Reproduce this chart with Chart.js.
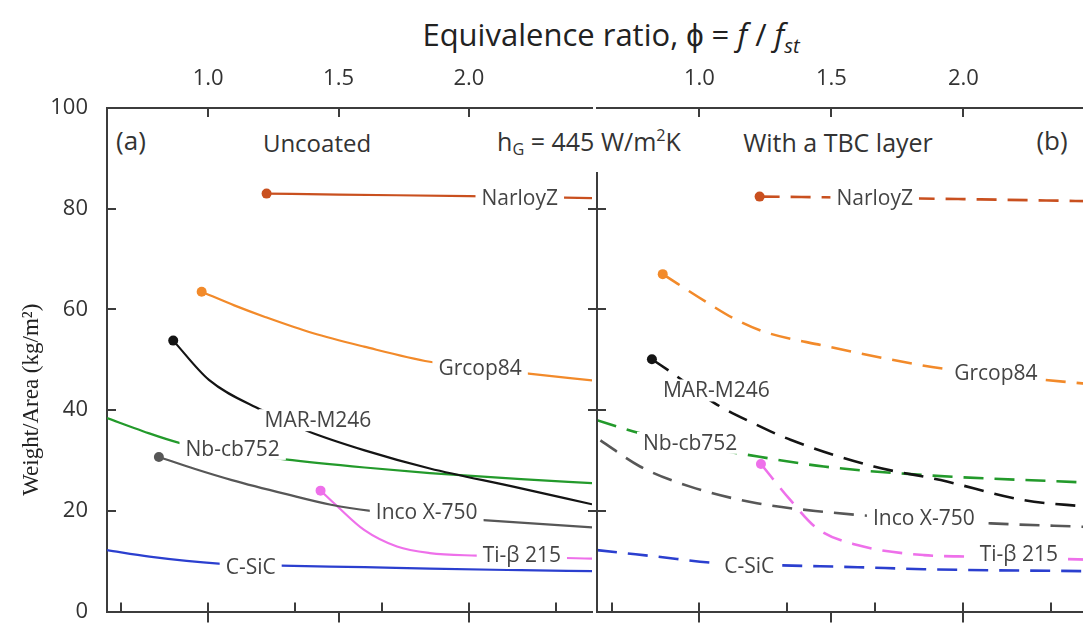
<!DOCTYPE html>
<html>
<head>
<meta charset="utf-8">
<title>Weight per area vs equivalence ratio</title>
<script src="https://cdn.jsdelivr.net/npm/chart.js@4.4.1/dist/chart.umd.min.js"></script>
<style>
  html, body { margin: 0; padding: 0; background: #fff; }
  body { width: 1083px; height: 623px; position: relative; overflow: hidden; font-family: 'Open Sans', sans-serif; color: #333; }
  canvas { position: absolute; top: 0; }
  #chartA { left: 0; }
  #chartB { left: 587px; }
  .note { position: absolute; transform: translate(-50%, -50%); white-space: nowrap; font-size: 24px; color: #333; }
  .note sub { font-size: 0.65em; vertical-align: -0.3em; }
  .note sup { font-size: 0.65em; vertical-align: 0.6em; }
  #title { font-size: 31px; color: #222; }
</style>
</head>
<body>
<div id="title" class="note" style="left:611px; top:36px">Equivalence ratio, ϕ = <i>f</i> / <i>f</i><sub><i>st</i></sub></div>
<div class="note" style="left:131px; top:140px; font-size:26px">(a)</div>
<div class="note" style="left:317px; top:142px">Uncoated</div>
<div class="note" style="left:589px; top:142px; font-size:25px">h<sub>G</sub> = 445 W/m<sup>2</sup>K</div>
<div class="note" style="left:838px; top:142px; font-size:25px">With a TBC layer</div>
<div class="note" style="left:1052px; top:140px; font-size:26px">(b)</div>
<canvas id="chartA" width="597" height="623"></canvas>
<canvas id="chartB" width="506" height="623"></canvas>
<script>
const PHI_MIN = 0.612, PHI_MAX = 2.472;
const phiTicks = [1.0, 1.5, 2.0];
const lowerTicks = [0.667, 1.0, 1.333, 1.667, 2.0, 2.333];
const weightTicks = [0, 20, 40, 60, 80, 100];

const materials = ['NarloyZ', 'Grcop84', 'MAR-M246', 'Nb-cb752', 'Inco X-750', 'Ti-β 215', 'C-SiC'];

// (a) uncoated, [phi, kg/m2]
const narloyA = [[1.224, 83.0], [1.5, 82.8], [2.0, 82.5], [2.472, 82.1]];
const grcopA = [[0.975, 63.5], [1.1, 60.8], [1.218, 58.5], [1.4, 55.3], [1.598, 52.6], [1.85, 49.6], [2.22, 47.3], [2.472, 45.9]];
const marA = [[0.866, 53.8], [1.003, 46.0], [1.205, 40.0], [1.383, 35.8], [1.6, 32.0], [1.85, 28.4], [2.17, 24.8], [2.472, 21.3]];
const nbA = [[0.612, 38.4], [0.75, 35.8], [0.889, 33.5], [1.1, 31.5], [1.294, 30.2], [1.6, 28.6], [1.85, 27.5], [2.2, 26.3], [2.472, 25.5]];
const incoA = [[0.811, 30.7], [0.95, 28.3], [1.091, 26.1], [1.3, 23.3], [1.471, 21.2], [1.623, 20.0], [2.04, 18.2], [2.472, 16.7]];
const tiA = [[1.431, 24.0], [1.497, 20.8], [1.598, 16.2], [1.724, 12.9], [1.85, 11.6], [2.03, 11.1], [2.472, 10.5]];
const csicA = [[0.612, 12.2], [0.775, 10.9], [1.04, 9.5], [1.28, 9.1], [1.6, 8.8], [1.85, 8.5], [2.2, 8.2], [2.472, 8.0]];

// (b) with a TBC layer
const narloyB = [[1.228, 82.4], [1.6, 82.2], [2.0, 81.9], [2.472, 81.5]];
const grcopB = [[0.861, 67.0], [1.028, 61.4], [1.13, 58.2], [1.243, 55.6], [1.471, 52.8], [1.7, 50.3], [1.914, 48.3], [2.307, 46.0], [2.472, 45.2]];
const marB = [[0.82, 50.1], [0.896, 47.4], [1.06, 41.3], [1.2, 37.5], [1.345, 34.1], [1.661, 28.8], [1.914, 26.1], [2.23, 22.1], [2.472, 20.8]];
const nbB = [[0.612, 38.0], [0.775, 35.4], [0.95, 33.2], [1.161, 31.3], [1.471, 28.8], [1.85, 27.1], [2.472, 25.6]];
const incoB = [[0.625, 34.0], [0.775, 28.8], [0.965, 24.8], [1.218, 21.5], [1.471, 19.8], [1.75, 18.6], [2.104, 17.5], [2.472, 16.8]];
const tiB = [[1.233, 29.3], [1.345, 22.1], [1.446, 16.5], [1.598, 13.2], [1.85, 11.2], [2.04, 10.9], [2.472, 10.3]];
const csicB = [[0.612, 12.2], [0.839, 10.9], [1.066, 9.6], [1.294, 9.2], [1.6, 8.8], [1.85, 8.4], [2.472, 8.0]];

// where the curve names sit, [phi, kg/m2]
const labelsA = [[2.195, 82.1], [2.043, 48.4], [1.421, 38.0], [1.094, 32.3], [1.838, 19.8], [2.203, 11.2], [1.163, 8.9]];
const labelsB = [[1.664, 82.1], [2.123, 47.4], [1.064, 43.9], [0.965, 33.5], [1.85, 18.5], [2.21, 11.4], [1.189, 9.0]];

const dotsA = [true, true, true, false, true, true, false];
const dotsB = [true, true, true, false, false, true, false];

const colors = ['#c9501f', '#f28a2a', '#141414', '#239a2b', '#575757', '#ee70ea', '#2b3fcf'];
const axisColor = '#3c3c3c';
const tickFont = { family: 'Open Sans', size: 22 };

Chart.defaults.font.family = 'Open Sans';

const frameTicks = {
    id: 'frameTicks',
    afterDraw(chart, args, opts) {
        const { ctx, chartArea: a, scales } = chart;
        const xs = scales.x, ys = scales.y;
        ctx.save();
        ctx.strokeStyle = axisColor;
        ctx.lineWidth = 2;
        ctx.beginPath();
        phiTicks.forEach(v => {
            const px = Math.round(xs.getPixelForValue(v));
            ctx.moveTo(px, a.top);
            ctx.lineTo(px, a.top + 9);
            ctx.moveTo(px, a.bottom);
            ctx.lineTo(px, a.bottom + 11);
        });
        lowerTicks.forEach(v => {
            const px = Math.round(xs.getPixelForValue(v));
            ctx.moveTo(px, a.bottom);
            ctx.lineTo(px, a.bottom - 9);
        });
        weightTicks.slice(1, -1).forEach(v => {
            const py = Math.round(ys.getPixelForValue(v));
            ctx.moveTo(a.left, py);
            ctx.lineTo(a.left + 9, py);
            if (opts.divider) {
                ctx.moveTo(a.left, py);
                ctx.lineTo(a.left - 9, py);
            }
        });
        if (opts.divider) {
            ctx.moveTo(a.left, a.top + 64);
            ctx.lineTo(a.left, a.bottom);
        }
        ctx.stroke();

        if (opts.yTitle) {
            // y title sits a little below the middle of the axis, as in the figure
            ctx.translate(32, (a.top + a.bottom) / 2 + 40);
            ctx.rotate(-Math.PI / 2);
            ctx.font = '23px "Liberation Serif"';
            ctx.fillStyle = '#222';
            ctx.textAlign = 'center';
            ctx.textBaseline = 'middle';
            ctx.fillText(opts.yTitle, 0, 0);
        }
        ctx.restore();
    }
};

const curveLabels = {
    id: 'curveLabels',
    afterDatasetsDraw(chart, args, opts) {
        const { ctx, scales: { x, y } } = chart;
        ctx.save();
        ctx.font = '21px "Open Sans"';
        ctx.textAlign = 'center';
        ctx.textBaseline = 'middle';
        opts.spots.forEach(([phi, w], i) => {
            const px = x.getPixelForValue(phi);
            const py = y.getPixelForValue(w);
            const tw = ctx.measureText(materials[i]).width;
            ctx.fillStyle = '#fff';
            ctx.fillRect(px - tw / 2 - 6, py - 11, tw + 12, 22);
            ctx.fillStyle = '#444';
            ctx.fillText(materials[i], px, py + 1);
        });
        ctx.restore();
    }
};

function makeChart(id, series, spots, dots, dashed) {
    const datasets = series.map((pts, i) => ({
        label: materials[i],
        data: pts.map(([x, y]) => ({ x, y })),
        borderColor: colors[i],
        backgroundColor: colors[i],
        borderWidth: dashed ? 2.6 : 2.2,
        borderDash: dashed ? [20, 11] : [],
        cubicInterpolationMode: 'monotone',
        pointRadius: c => (dots[i] && c.dataIndex === 0 ? 5 : 0),
        pointHoverRadius: 0,
        pointBorderWidth: 0
    }));

    const yAxis = dashed ? { display: false, min: 0, max: 100 } : {
        min: 0, max: 100,
        afterBuildTicks: s => { s.ticks = weightTicks.map(v => ({ value: v })); },
        afterFit: s => {
            s.width = 107;
            s.paddingTop = 0;
            s.paddingBottom = 0;
        },
        ticks: { font: tickFont, color: '#333', padding: 11 },
        grid: { display: false },
        border: { display: true, color: axisColor, width: 2 }
    };

    return new Chart(document.getElementById(id), {
        type: 'line',
        data: { datasets },
        options: {
            responsive: false,
            animation: false,
            devicePixelRatio: 1,
            layout: { padding: { left: dashed ? 10 : 0, right: 0, top: 0, bottom: 0 } },
            plugins: {
                legend: { display: false },
                tooltip: { enabled: false },
                frameTicks: { divider: dashed, yTitle: dashed ? '' : 'Weight/Area (kg/m²)' },
                curveLabels: { spots }
            },
            scales: {
                x: {
                    type: 'linear', position: 'top', min: PHI_MIN, max: PHI_MAX,
                    afterBuildTicks: s => { s.ticks = phiTicks.map(v => ({ value: v })); },
                    afterFit: s => {
                        s.height = 108;
                        s.paddingLeft = 0;
                        s.paddingRight = 0;
                    },
                    ticks: { font: tickFont, color: '#333', padding: 8, maxRotation: 0, callback: v => v.toFixed(1) },
                    grid: { display: false },
                    border: { display: true, color: axisColor, width: 2 }
                },
                x2: {
                    type: 'linear', position: 'bottom', min: PHI_MIN, max: PHI_MAX,
                    afterFit: s => { s.height = 11.5; },
                    ticks: { display: false },
                    grid: { display: false },
                    border: { display: true, color: axisColor, width: 2 }
                },
                y: yAxis
            }
        },
        plugins: [frameTicks, curveLabels]
    });
}

makeChart('chartA', [narloyA, grcopA, marA, nbA, incoA, tiA, csicA], labelsA, dotsA, false);
makeChart('chartB', [narloyB, grcopB, marB, nbB, incoB, tiB, csicB], labelsB, dotsB, true);
</script>
</body>
</html>
